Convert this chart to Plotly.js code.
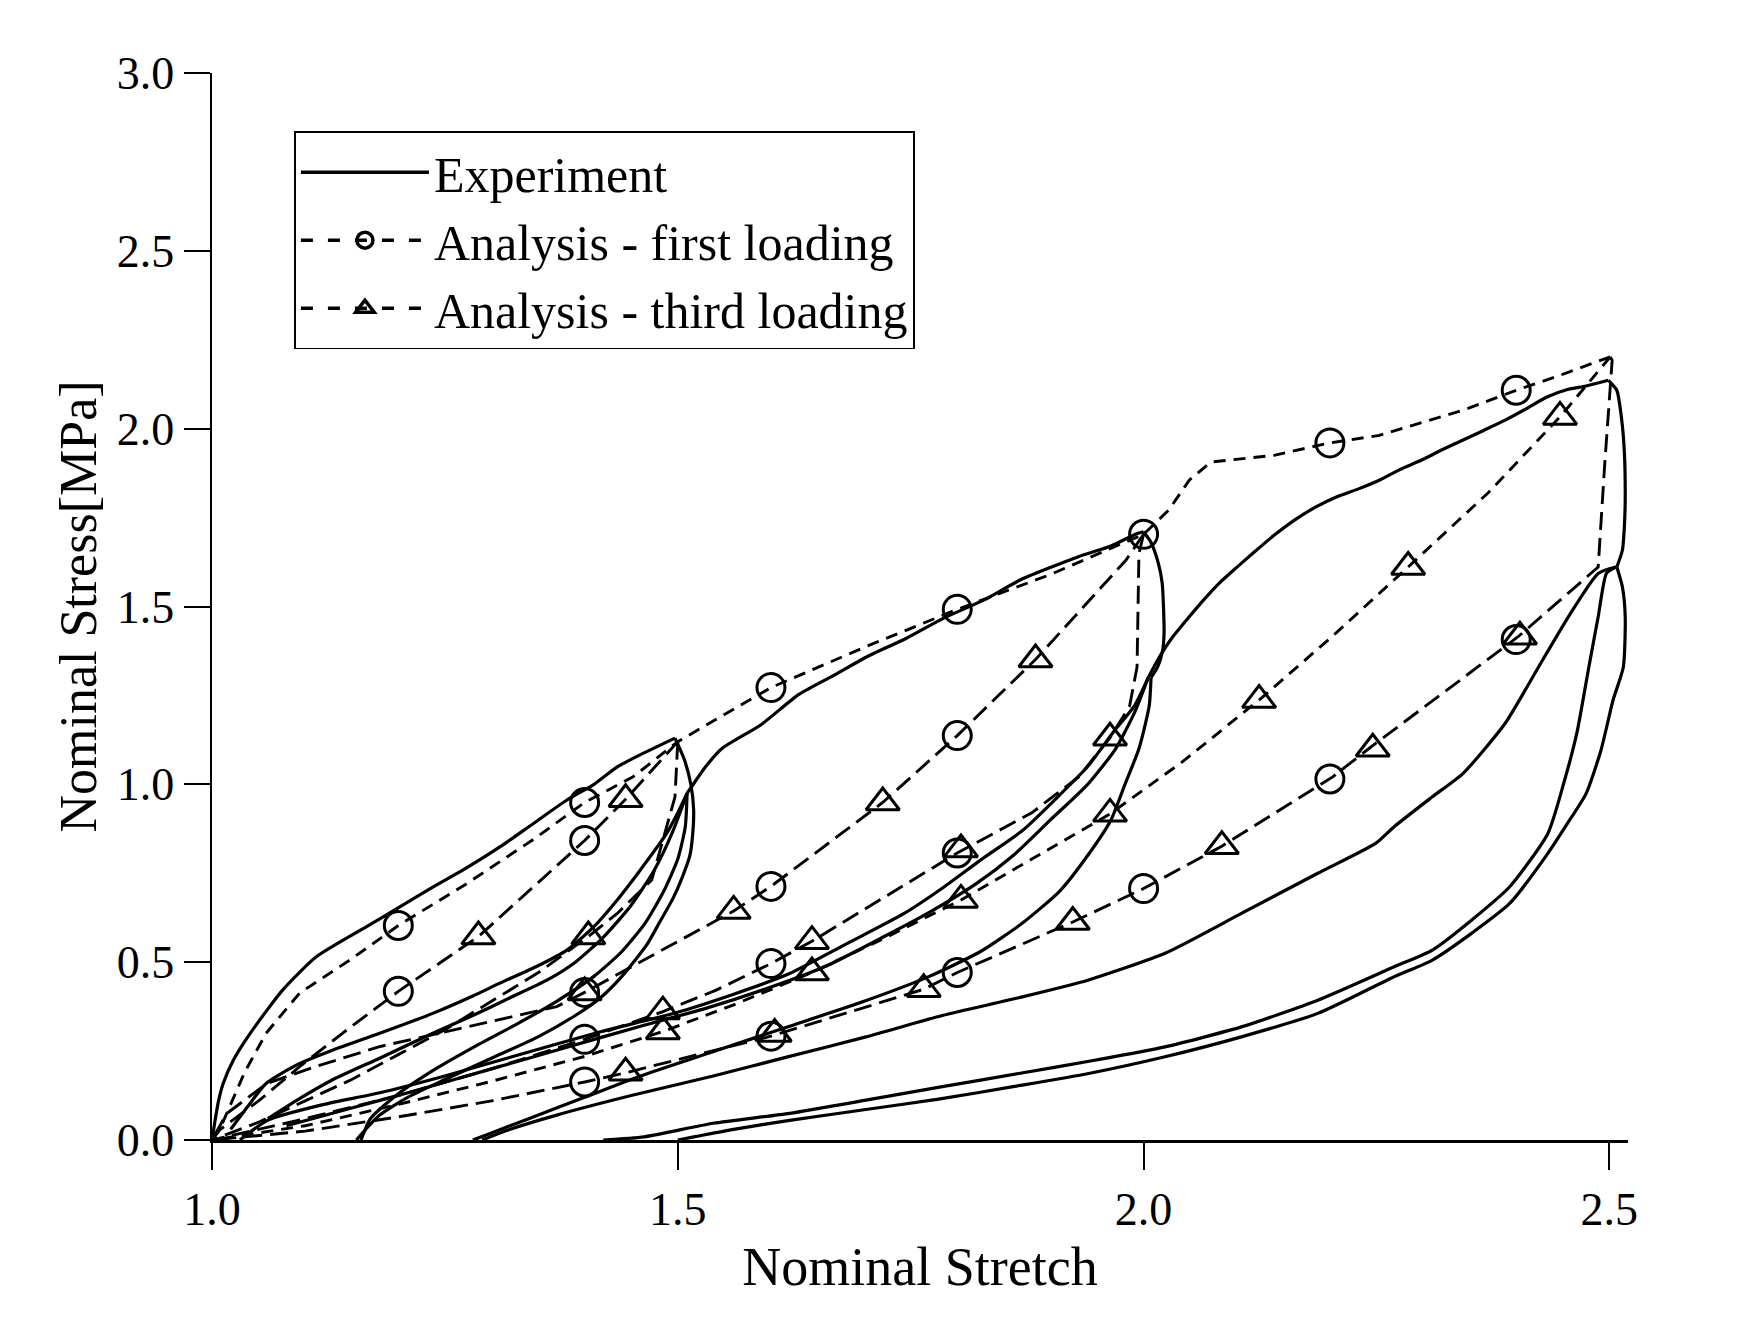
<!DOCTYPE html>
<html><head><meta charset="utf-8">
<script src="https://cdn.plot.ly/plotly-3.0.1.min.js"></script>
<style>html,body{margin:0;padding:0;background:#fff}</style>
</head><body>
<div id="chart" style="width:1752px;height:1341px"></div>
<script>
// ---------- Experiment (solid) ----------
const expLoad15X = [1.0,1.003,1.007,1.012,1.023,1.041,1.076,1.112,1.166,1.202,1.237,1.27,1.309,1.345,1.381,1.41,1.435,1.465,1.485,1.497];
const expLoad15Y = [0,0.05,0.11,0.159,0.225,0.3,0.422,0.515,0.6,0.656,0.711,0.76,0.824,0.89,0.956,1.0,1.049,1.09,1.115,1.13];
const expUnload15aX = [1.497,1.507,1.514,1.517,1.516,1.513,1.505,1.495,1.48,1.467,1.44,1.417,1.39,1.35,1.3,1.25,1.21,1.18,1.165,1.155];
const expUnload15aY = [1.13,1.07,1.0,0.93,0.86,0.8,0.74,0.68,0.61,0.55,0.46,0.4,0.35,0.29,0.23,0.17,0.12,0.07,0.03,0.0];
const expUnload15bX = [1.51,1.508,1.5,1.485,1.465,1.44,1.41,1.37,1.33,1.28,1.24,1.2,1.17,1.16];
const expUnload15bY = [0.975,0.88,0.79,0.7,0.61,0.53,0.46,0.39,0.33,0.26,0.2,0.13,0.06,0.0];
const expReload15aX = [1.02,1.04,1.058,1.09,1.13,1.18,1.237,1.28,1.309,1.35,1.381,1.41,1.435,1.46,1.488,1.5,1.51];
const expReload15aY = [0.03,0.1,0.159,0.21,0.253,0.3,0.356,0.405,0.441,0.49,0.534,0.6,0.675,0.76,0.862,0.92,0.975];
const expReload15bX = [1.06,1.09,1.13,1.18,1.237,1.28,1.32,1.36,1.39,1.42,1.45,1.475,1.495,1.51];
const expReload15bY = [0.06,0.11,0.17,0.23,0.3,0.35,0.4,0.45,0.5,0.57,0.66,0.76,0.87,0.975];
const expLoad20X = [1.51,1.515,1.53,1.548,1.589,1.63,1.67,1.704,1.745,1.786,1.83,1.868,1.93,1.965,1.992,2.0];
const expLoad20Y = [0.975,0.994,1.05,1.102,1.167,1.253,1.31,1.36,1.41,1.468,1.52,1.575,1.64,1.67,1.704,1.71];
const expBulge20X = [2.0,2.008,2.016,2.02,2.022,2.02,2.015,2.008];
const expBulge20Y = [1.71,1.68,1.62,1.565,1.424,1.37,1.33,1.3];
const expUnload20X = [2.008,2.006,1.995,1.98,1.965,1.94,1.91,1.87,1.825,1.77,1.7,1.62,1.54,1.46,1.4,1.34,1.3,1.28];
const expUnload20Y = [1.3,1.22,1.1,1.0,0.9,0.8,0.7,0.61,0.53,0.46,0.39,0.32,0.25,0.18,0.12,0.06,0.02,0.0];
const expReload20aX = [1.03,1.06,1.12,1.179,1.25,1.322,1.418,1.497,1.56,1.62,1.68,1.743,1.785,1.825,1.87,1.908,1.94,1.969,1.99,2.005];
const expReload20aY = [0.0,0.056,0.1,0.132,0.18,0.234,0.305,0.357,0.41,0.468,0.55,0.637,0.71,0.787,0.87,0.965,1.05,1.152,1.22,1.3];
const expReload20bX = [1.08,1.15,1.22,1.3,1.38,1.46,1.53,1.6,1.66,1.72,1.77,1.82,1.86,1.9,1.94,1.97,1.99,2.005];
const expReload20bY = [0.04,0.09,0.14,0.2,0.26,0.32,0.37,0.43,0.49,0.57,0.64,0.72,0.8,0.9,1.0,1.1,1.2,1.3];
const expLoad25X = [2.005,2.015,2.03,2.049,2.065,2.081,2.1,2.117,2.14,2.162,2.185,2.207,2.23,2.253,2.275,2.298,2.32,2.343,2.365,2.388,2.41,2.433,2.455,2.475,2.499];
const expLoad25Y = [1.3,1.349,1.41,1.471,1.52,1.565,1.61,1.649,1.70,1.743,1.78,1.808,1.83,1.855,1.885,1.911,1.94,1.968,1.995,2.024,2.055,2.089,2.11,2.12,2.136];
const expBulge25X = [2.499,2.508,2.513,2.516,2.517,2.516,2.514,2.508];
const expBulge25Y = [2.136,2.108,2.03,1.939,1.8,1.72,1.658,1.611];
const expCurveAX = [2.507,2.488,2.456,2.424,2.388,2.343,2.31,2.269,2.249,2.187,2.105,2.023,1.941,1.866,1.784,1.702,1.62,1.538,1.45,1.37,1.32,1.29];
const expCurveAY = [1.611,1.593,1.471,1.33,1.171,1.031,0.965,0.881,0.834,0.75,0.637,0.525,0.45,0.40,0.35,0.29,0.235,0.18,0.125,0.07,0.03,0.0];
const expCurveBX = [2.507,2.497,2.488,2.478,2.465,2.451,2.434,2.393,2.352,2.31,2.269,2.187,2.105,2.023,1.949,1.866,1.784,1.702,1.62,1.538,1.464,1.42];
const expCurveBY = [1.611,1.594,1.471,1.33,1.143,1.003,0.862,0.712,0.618,0.534,0.487,0.393,0.318,0.262,0.225,0.187,0.15,0.112,0.075,0.047,0.009,0.0];
const expCurveCX = [2.508,2.514,2.517,2.515,2.504,2.491,2.475,2.455,2.434,2.393,2.352,2.31,2.269,2.187,2.105,2.023,1.941,1.86,1.78,1.7,1.62,1.56,1.52,1.5];
const expCurveCY = [1.611,1.555,1.471,1.33,1.237,1.096,0.974,0.89,0.806,0.665,0.581,0.506,0.459,0.356,0.29,0.234,0.187,0.15,0.115,0.085,0.055,0.03,0.01,0.0];

// ---------- Analysis (dashed) ----------
const envelopeX = [1.0,1.008,1.02,1.035,1.058,1.094,1.148,1.2,1.273,1.345,1.4,1.452,1.5,1.6,1.7,1.8,1.9,2.0,2.027,2.049,2.072,2.14,2.2,2.253,2.343,2.4,2.447,2.501];
const envelopeY = [0,0.028,0.1,0.19,0.30,0.413,0.506,0.603,0.72,0.845,0.949,1.021,1.12,1.272,1.385,1.492,1.59,1.703,1.771,1.855,1.906,1.925,1.96,1.981,2.052,2.108,2.15,2.202];
const unload15X = [1.5,1.499,1.497,1.484,1.472,1.435,1.404,1.35,1.3,1.25,1.2,1.15,1.1,1.05,1.0];
const unload15Y = [1.12,1.05,0.965,0.843,0.731,0.637,0.572,0.47,0.39,0.31,0.24,0.17,0.11,0.05,0];
const unload20X = [2.0,1.995,1.993,1.985,1.964,1.93,1.88,1.8,1.72,1.644,1.6,1.54,1.484,1.4,1.3,1.2,1.1,1.0];
const unload20Y = [1.703,1.649,1.33,1.22,1.131,1.02,0.92,0.807,0.68,0.559,0.496,0.42,0.361,0.283,0.2,0.125,0.06,0];
const unload25X = [2.501,2.503,2.495,2.488,2.402,2.244,2.203,2.084,2.0,1.924,1.8,1.764,1.6,1.444,1.4,1.3,1.2,1.1,1.0];
const unload25Y = [2.202,2.192,1.9,1.611,1.415,1.105,1.021,0.826,0.707,0.613,0.471,0.424,0.292,0.189,0.163,0.11,0.065,0.025,0];
const reload15X = [1.0,1.008,1.051,1.094,1.14,1.187,1.2,1.286,1.4,1.444,1.5];
const reload15Y = [0,0.028,0.112,0.206,0.3,0.393,0.418,0.572,0.842,0.958,1.12];
const reload20X = [2.0,1.981,1.884,1.8,1.72,1.6,1.56,1.48,1.4,1.37,1.274,1.179,1.111,1.059,1.016,1.0];
const reload20Y = [1.703,1.63,1.351,1.137,0.949,0.713,0.644,0.53,0.415,0.375,0.318,0.262,0.206,0.159,0.075,0];
const reload25X = [2.501,2.447,2.37,2.284,2.2,2.124,2.04,1.964,1.88,1.804,1.72,1.644,1.56,1.484,1.4,1.3,1.2,1.1,1.0];
const reload25Y = [2.202,2.033,1.82,1.611,1.41,1.237,1.06,0.917,0.79,0.675,0.565,0.471,0.38,0.305,0.235,0.165,0.1,0.04,0];

const circleX = [1.2,1.4,1.6,1.8,2.0,2.2,2.4, 1.2,1.4, 1.4,1.6,1.8, 1.4,1.6,1.8, 1.4,1.6,1.8,2.0,2.2,2.4];
const circleY = [0.603,0.949,1.272,1.492,1.703,1.96,2.108, 0.418,0.842, 0.415,0.713,1.137, 0.283,0.496,0.807, 0.163,0.292,0.471,0.707,1.015,1.407];
const triangleX = [1.286,1.444, 1.404, 1.884,1.72,1.56,1.40, 1.964,1.804,1.644,1.484, 2.447,2.284,2.124,1.964,1.804,1.644,1.484, 2.404,2.246,2.084,1.924,1.764,1.604,1.444];
const triangleY = [0.572,0.958, 0.572, 1.351,0.949,0.644,0.415, 1.131,0.817,0.559,0.361, 2.033,1.611,1.237,0.917,0.675,0.471,0.305, 1.415,1.10,0.826,0.613,0.424,0.298,0.189];

const xTicks = [1.0,1.5,2.0,2.5];
const xTickText = ['1.0','1.5','2.0','2.5'];
const yTicks = [0,0.5,1.0,1.5,2.0,2.5,3.0];
const yTickText = ['0.0','0.5','1.0','1.5','2.0','2.5','3.0'];
const legendNames = ['Experiment','Analysis - first loading','Analysis - third loading'];

const FONT = 'Liberation Serif, Times New Roman, serif';
const expStyle = {color:'#000', width:3.2, shape:'spline', smoothing:0.6};
const dashA = {color:'#000', width:2.9, dash:'12px,8px'};
const dashB = {color:'#000', width:2.9, dash:'18px,8px'};

const traces = [];
const expSegs = [
 [expLoad15X,expLoad15Y],[expUnload15aX,expUnload15aY],[expUnload15bX,expUnload15bY],
 [expReload15aX,expReload15aY],[expReload15bX,expReload15bY],[expLoad20X,expLoad20Y],
 [expBulge20X,expBulge20Y],[expUnload20X,expUnload20Y],[expReload20aX,expReload20aY],
 [expReload20bX,expReload20bY],[expLoad25X,expLoad25Y],[expBulge25X,expBulge25Y],
 [expCurveAX,expCurveAY],[expCurveBX,expCurveBY],[expCurveCX,expCurveCY]];
expSegs.forEach(s => traces.push({x:s[0], y:s[1], type:'scatter', mode:'lines', line:expStyle, showlegend:false, hoverinfo:'skip', legendgroup:'exp'}));

[[envelopeX,envelopeY,dashA,'first'],[unload15X,unload15Y,dashB,'first'],[unload20X,unload20Y,dashB,'first'],[unload25X,unload25Y,dashB,'first'],
 [reload15X,reload15Y,dashB,'third'],[reload20X,reload20Y,dashB,'third'],[reload25X,reload25Y,dashA,'third']]
 .forEach(s => traces.push({x:s[0], y:s[1], type:'scatter', mode:'lines', line:s[2], showlegend:false, hoverinfo:'skip', legendgroup:s[3]}));

traces.push({x:circleX, y:circleY, type:'scatter', mode:'markers', showlegend:false, legendgroup:'first',
  marker:{symbol:'circle-open', size:28, color:'#000', line:{width:3, color:'#000'}}, cliponaxis:false});
traces.push({x:triangleX, y:triangleY, type:'scatter', mode:'markers', showlegend:false, legendgroup:'third',
  marker:{symbol:'triangle-up-open', size:29, color:'#000', line:{width:3, color:'#000'}}, cliponaxis:false});

// legend entries
traces.push({x:[null], y:[null], type:'scatter', mode:'lines', name:legendNames[0], line:{color:'#000', width:3.5}, legendgroup:'exp'});
traces.push({x:[null], y:[null], type:'scatter', mode:'lines+markers', name:legendNames[1], line:{color:'#000', width:3.5, dash:'12px,15px'},
  marker:{symbol:'circle-open', size:16, color:'#000', line:{width:3.5, color:'#000'}}, legendgroup:'first'});
traces.push({x:[null], y:[null], type:'scatter', mode:'lines+markers', name:legendNames[2], line:{color:'#000', width:3.5, dash:'12px,15px'},
  marker:{symbol:'triangle-up-open', size:16, color:'#000', line:{width:3.5, color:'#000'}}, legendgroup:'third'});

const layout = {
  width:1752, height:1341,
  margin:{l:212, r:124, t:73, b:201},
  paper_bgcolor:'#fff', plot_bgcolor:'#fff',
  showlegend:true,
  font:{family:FONT, color:'#000'},
  xaxis:{range:[1.0,2.52], tickmode:'array', tickvals:xTicks, ticktext:xTickText, ticks:'outside', ticklen:27, tickwidth:2,
    tickcolor:'#000', showline:true, linecolor:'#000', linewidth:2.5, showgrid:false, zeroline:false,
    tickfont:{family:FONT, size:46, color:'#000'},
    title:{text:'Nominal Stretch', font:{family:FONT, size:54, color:'#000'}, standoff:14}},
  yaxis:{range:[0,3], tickmode:'array', tickvals:yTicks, ticktext:yTickText, ticks:'outside', ticklen:26, tickwidth:2,
    tickcolor:'#000', showline:true, linecolor:'#000', linewidth:2.5, showgrid:false, zeroline:false,
    tickfont:{family:FONT, size:46, color:'#000'},
    title:{text:'Nominal Stress[MPa]', font:{family:FONT, size:52, color:'#000'}, standoff:4}},
  legend:{x:0.058, y:0.9453, xanchor:'left', yanchor:'top', bgcolor:'#fff', bordercolor:'#000', borderwidth:1.8,
    font:{family:FONT, size:50, color:'#000'}, itemwidth:128, itemsizing:'trace', tracegroupgap:0, itemclick:false, itemdoubleclick:false}
};

Plotly.newPlot('chart', traces, layout, {staticPlot:true, displayModeBar:false});
</script>
</body></html>
